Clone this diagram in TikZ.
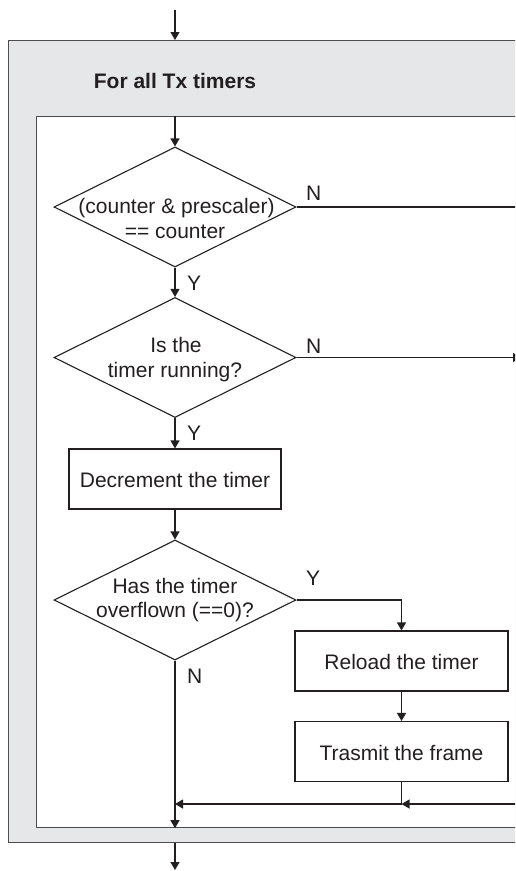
\documentclass[tikz,border=0pt]{standalone}
\usepackage{fontspec}
\setmainfont{Liberation Sans}
\usetikzlibrary{arrows.meta,shapes.geometric}
\definecolor{linegray}{HTML}{231F20}
\definecolor{framegray}{HTML}{4D4D4F}
\definecolor{panelgray}{HTML}{E6E7E8}

\begin{document}
\begin{tikzpicture}[x=1pt,y=-1pt,
  every node/.style={font=\fontsize{21}{25}\selectfont, text=linegray},
  flow/.style={draw=linegray, line width=1.1pt},
  arr/.style={flow, -{Triangle[length=8pt,width=9pt]}},
  procbox/.style={draw=linegray, line width=1.1pt, fill=white,
    minimum width=212pt, minimum height=60pt, inner sep=0pt},
  decision/.style={diamond, draw=linegray, line width=1.1pt, fill=white,
    minimum width=242pt, minimum height=120pt, inner sep=0pt},
  txt/.style={anchor=base, inner sep=0pt},
  tag/.style={anchor=base west, inner sep=0pt}]

\useasboundingbox (0,0) rectangle (515,871);
\clip (0,0) rectangle (515,871);

% loop frame and its body
\node[draw=framegray, line width=1.3pt, fill=panelgray, anchor=north west,
  minimum width=552pt, minimum height=802pt, inner sep=0pt] (outer) at (8,40) {};
\node[draw=framegray, line width=1.1pt, fill=white, anchor=north west,
  minimum width=514pt, minimum height=711pt, inner sep=0pt] (inner) at (36,116) {};
\node[txt, font=\fontsize{21}{25}\selectfont\bfseries] (title) at (175,88.5) {For all Tx timers};

% shapes
\node[decision] (d1) at (175,207) {};
\node[decision] (d2) at (175,357.5) {};
\node[procbox] (dec) at (175,479) {};
\node[decision] (d3) at (175,600) {};
\node[procbox, minimum width=213pt] (reload) at (401.5,661) {};
\node[procbox, minimum width=213pt] (tx) at (401.5,751.5) {};

% texts
\node[txt] (d1a) at (176.5,213.5) {(counter \& prescaler)};
\node[txt] (d1b) at (175,238) {== counter};
\node[txt] (d2a) at (176,352.5) {Is the};
\node[txt] (d2b) at (175,377.5) {timer running?};
\node[txt] (dect) at (175,487) {Decrement the timer};
\node[txt] (d3a) at (175,593) {Has the timer};
\node[txt] (d3b) at (175,617.5) {overflown (==0)?};
\node[txt] (reloadt) at (401.5,669) {Reload the timer};
\node[txt] (txt1) at (401.5,760) {Trasmit the frame};

% branch tags
\node[tag] (n1) at (306,200) {N};
\node[tag] (y1) at (187,290) {Y};
\node[tag] (n2) at (306,353) {N};
\node[tag] (y2) at (187,440) {Y};
\node[tag] (y3) at (306,585) {Y};
\node[tag] (n3) at (187,683) {N};

% free ends
\coordinate (entry) at (175,10);
\coordinate (exit) at (175,870);
\coordinate (n1end) at (530,207);
\coordinate (n2end) at (521,357.5);
\coordinate (backin) at (530,804);
\coordinate (join) at (401.5,804);

% connectors
\draw[arr] (entry) -- (entry |- outer.north);
\draw[arr] (entry |- inner.north) -- (d1.north);
\draw[flow] (d1.east) -- (n1end);
\draw[arr] (d1.south) -- (d2.north);
\draw[arr] (d2.east) -- (n2end);
\draw[arr] (d2.south) -- (dec.north);
\draw[arr] (dec.south) -- (d3.north);
\draw[arr] (d3.east) -| (reload.north);
\draw[arr] (reload.south) -- (tx.north);
\draw[flow] (tx.south) -- (join);
\draw[arr] (backin) -- (join);
\draw[arr] (join) -- (d3.south |- join);
\draw[arr] (d3.south) -- (d3.south |- inner.south);
\draw[arr] (entry |- outer.south) -- (exit);
\end{tikzpicture}
\end{document}
